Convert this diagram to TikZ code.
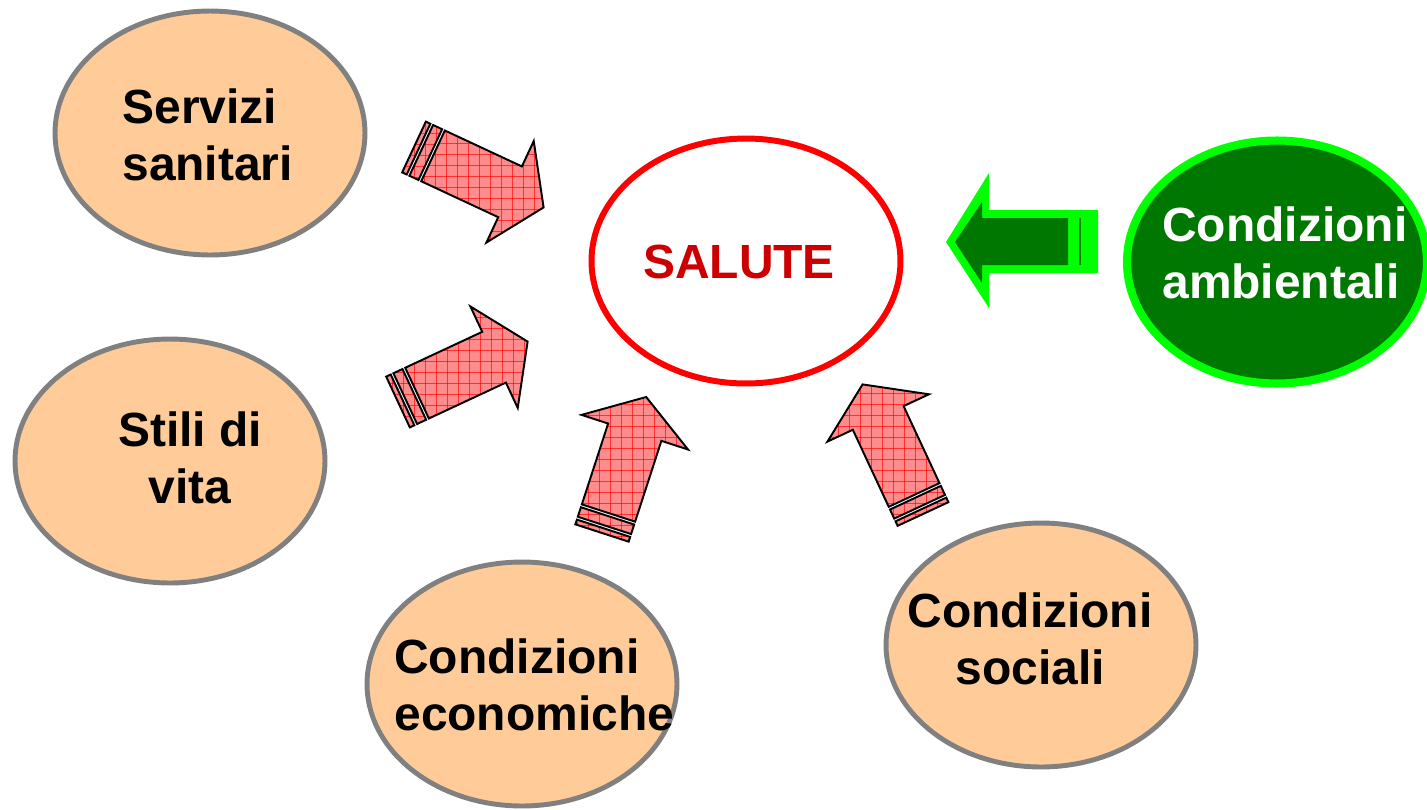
\documentclass[tikz,border=0pt]{standalone}
\usepackage{fontspec}
\setmainfont{Liberation Sans}
\usepackage{tikz}
\usetikzlibrary{shapes.geometric,patterns}

\definecolor{peach}{HTML}{FFCC99}
\definecolor{rimgray}{HTML}{808080}
\definecolor{darkgreen}{HTML}{007700}
\definecolor{lightgreen}{HTML}{00FF00}
\definecolor{salred}{HTML}{CC0000}
\definecolor{gridpink}{HTML}{FF8C8C}

\pgfdeclarepatternformonly{biggrid}{\pgfpointorigin}{\pgfqpoint{6.2pt}{6.2pt}}{\pgfqpoint{6.2pt}{6.2pt}}{%
  \pgfsetlinewidth{0.7pt}%
  \pgfpathmoveto{\pgfqpoint{0pt}{0pt}}\pgfpathlineto{\pgfqpoint{6.2pt}{0pt}}%
  \pgfpathmoveto{\pgfqpoint{0pt}{0pt}}\pgfpathlineto{\pgfqpoint{0pt}{6.2pt}}%
  \pgfusepath{stroke}}

\tikzset{
  factor/.style={ellipse,draw=rimgray,line width=2.8pt,fill=peach,minimum width=6.2cm,minimum height=4.88cm},
  lbl/.style={font=\bfseries\fontsize{27.3}{32.4}\selectfont,inner sep=0pt},
  gridfill/.style={draw=black,line width=1.1pt,preaction={fill=gridpink},pattern=biggrid,pattern color=red},
}

% striped block arrow: tail centre x, y, direction
\newcommand{\stripearrow}[3]{%
  \begin{scope}[shift={(#1,#2)},rotate=#3]
    \path[gridfill] (0,-28) rectangle (5,28);
    \path[gridfill] (8,-28) rectangle (18,28);
    \path[gridfill] (21,-28) -- (106,-28) -- (106,-56) -- (143,0) -- (106,56) -- (106,28) -- (21,28) -- cycle;
  \end{scope}}

\begin{document}
\begin{tikzpicture}[x=0.02cm,y=-0.02cm]
		\useasboundingbox (0,0) rectangle (1427,809);

		% the five factors and the centre
		\node[factor] (servizi) at (210,133) {};
		\node[factor] (stili) at (170,461) {};
		\node[factor] (economiche) at (522,684) {};
		\node[factor] (sociali) at (1041,645) {};
		\node[ellipse,draw=lightgreen,fill=darkgreen,line width=4.6pt,minimum width=6.0cm,minimum height=4.86cm] (ambientali) at (1277,262) {};
		\node[ellipse,draw=red,fill=white,line width=3.4pt,minimum width=6.18cm,minimum height=4.9cm] (salute) at (746,261) {};

		\node[lbl,align=left,anchor=west] (servizi-txt) at (122,135) {Servizi\\sanitari};
		\node[lbl,align=center] (stili-txt) at (190,458) {Stili di\\vita};
		\node[lbl,align=left,anchor=west] (economiche-txt) at (394,685) {Condizioni\\economiche};
		\node[lbl,align=center] (sociali-txt) at (1030,639) {Condizioni\\sociali};
		\node[lbl,align=left,anchor=west,text=white] (ambientali-txt) at (1162,253) {Condizioni\\ambientali};
		\node[lbl,text=salred] (salute-txt) at (739,262) {SALUTE};

		% striped arrows
		\stripearrow{414}{147}{-25}
		\stripearrow{398}{402}{25}
		\stripearrow{602}{533}{72}
		\stripearrow{923}{514}{115}

		% green arrow
		\path[fill=lightgreen] (946,242) -- (989,173) -- (989,210) -- (1098,210) -- (1098,273) -- (989,273) -- (989,308) -- cycle;
		\path[fill=darkgreen] (955,242) -- (982,202) -- (982,218) -- (1068,218) -- (1068,265) -- (982,265) -- (982,283) -- cycle;
		\path[draw=darkgreen,line width=1pt] (1080,218) -- (1080,265);
	\end{tikzpicture}
\end{document}
